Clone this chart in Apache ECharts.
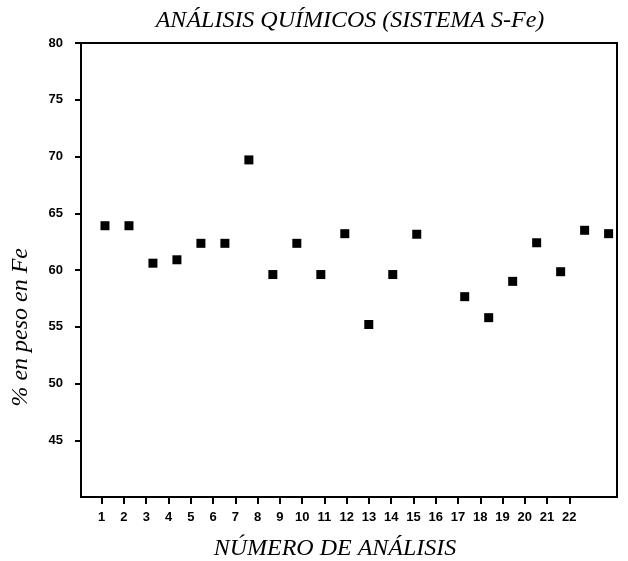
<!DOCTYPE html>
<html>
<head>
<meta charset="utf-8">
<script src="https://cdn.jsdelivr.net/npm/echarts@6/dist/echarts.min.js"></script>
<style>
	html, body { margin: 0; padding: 0; background: #fff; }
	#chart { width: 628px; height: 561px; }
</style>
</head>
<body>
<div id="chart"></div>
<script>
// numero de analisis (no hay 15)
var analisis = [1, 2, 3, 4, 5, 6, 7, 8, 9, 10, 11, 12, 13, 14, 16, 17, 18, 19, 20, 21, 22];
// % en peso en Fe
var fe = [63.9, 63.9, 60.6, 60.9, 62.35, 62.35, 69.7, 59.6, 62.35, 59.6, 63.2, 55.2, 59.6, 63.15, 57.65, 55.8, 59.0, 62.4, 59.85, 63.5, 63.2];
// etiquetas del eje x
var etiquetas = [1, 2, 3, 4, 5, 6, 7, 8, 9, 10, 11, 12, 13, 14, 15, 16, 17, 18, 19, 20, 21, 22];

var puntos = [];
for (var i = 0; i < analisis.length; i++) {
	puntos.push([analisis[i], fe[i]]);
}

var myChart = echarts.init(document.getElementById('chart'));
var serif = '"Liberation Serif", "DejaVu Serif", serif';
var sans = '"Liberation Sans", Arial, sans-serif';

var option = {
	animation: false,
	backgroundColor: '#fff',
	title: {
		text: 'ANÁLISIS QUÍMICOS (SISTEMA S-Fe)',
		left: 345,
		textAlign: 'center',
		top: 4,
		textStyle: { fontFamily: serif, fontStyle: 'italic', fontWeight: 'normal', fontSize: 24, color: '#000' }
	},
	grid: {
		left: 81, top: 43, right: 11, bottom: 64,
		outerBoundsMode: 'none',
		containLabel: false,
		show: true, borderColor: '#000', borderWidth: 2, backgroundColor: 'transparent'
	},
	xAxis: [{
		// eje oculto para colocar los puntos
		type: 'value', min: 0, max: 22.35,
		show: false
	}, {
		// eje visible con las marcas
		type: 'value', min: 0.07, max: 24.14,
		position: 'bottom',
		axisLine: { show: true, lineStyle: { color: '#000', width: 2 } },
		axisTick: { show: true, length: 7, customValues: etiquetas, lineStyle: { color: '#000', width: 2 } },
		axisLabel: {
			customValues: etiquetas, margin: 14,
			fontFamily: sans, fontWeight: 'bold', fontSize: 13, color: '#000'
		},
		splitLine: { show: false },
		name: 'NÚMERO DE ANÁLISIS',
		nameLocation: 'middle',
		nameGap: 40,
		nameTextStyle: { fontFamily: serif, fontStyle: 'italic', fontSize: 24, color: '#000', padding: [0, 0, 0, -28] }
	}],
	yAxis: {
		type: 'value', min: 40, max: 80, interval: 5,
		axisLine: { show: true, lineStyle: { color: '#000', width: 2 } },
		axisTick: { show: true, length: 6, lineStyle: { color: '#000', width: 2 } },
		axisLabel: {
			margin: 18, showMinLabel: false,
			fontFamily: sans, fontWeight: 'bold', fontSize: 13, color: '#000'
		},
		splitLine: { show: false }
	},
	graphic: [{
		type: 'text',
		left: 9,
		top: 248,
		rotation: Math.PI / 2,
		style: {
			text: '% en peso en Fe',
			font: 'italic 24px ' + serif,
			fill: '#000'
		}
	}],
	series: [{
		type: 'scatter',
		xAxisIndex: 0,
		symbol: 'rect',
		symbolSize: 9,
		itemStyle: { color: '#000', opacity: 1 },
		data: puntos
	}]
};
myChart.setOption(option);
</script>
</body>
</html>
